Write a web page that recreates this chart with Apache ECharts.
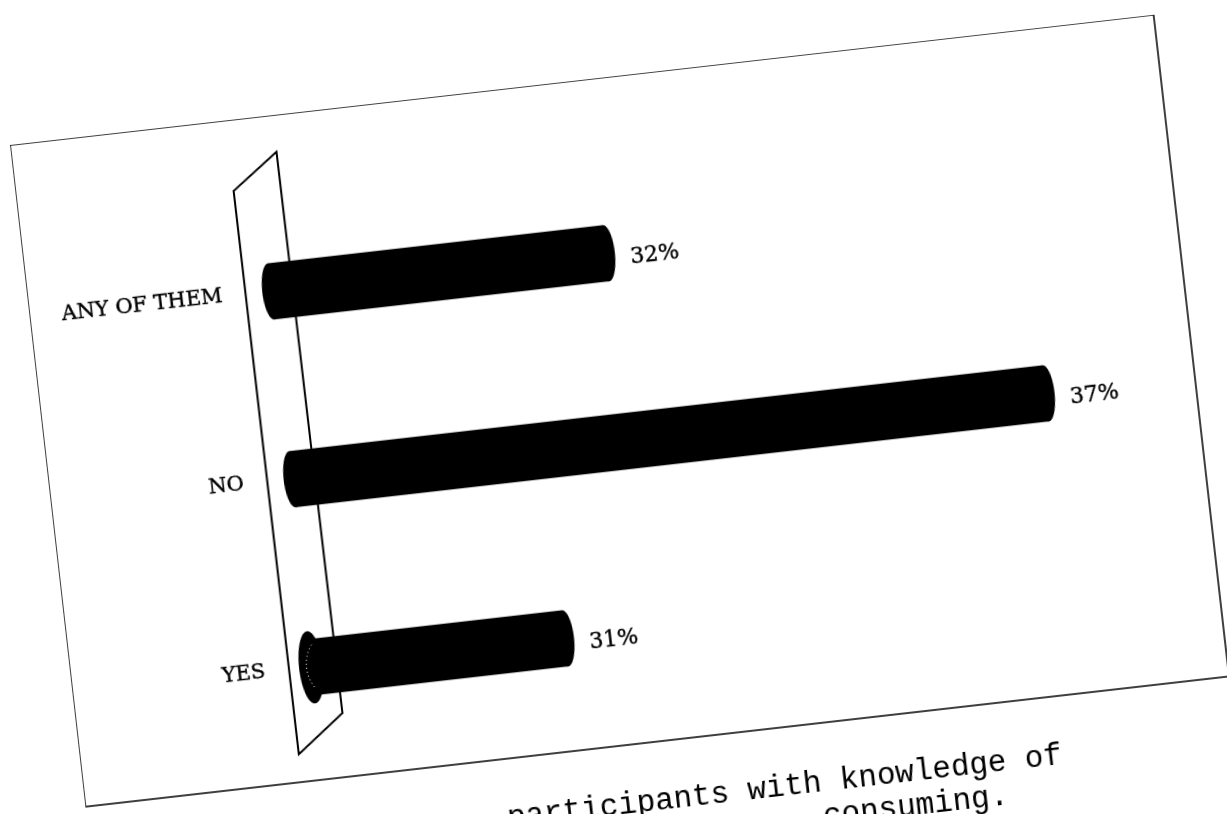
<!DOCTYPE html>
<html>
<head>
<meta charset="utf-8">
<script src="https://cdn.jsdelivr.net/npm/echarts@6/dist/echarts.min.js"></script>
<style>
  html, body { margin: 0; padding: 0; width: 1227px; height: 814px; overflow: hidden; background: #fff; }
  /* the printed page sits slightly tilted */
  #page {
    position: absolute; left: 10px; top: 145px;
    width: 1200px; height: 800px;
    transform-origin: 0 0; transform: rotate(-6.5deg);
  }
</style>
</head>
<body>
<div id="page"></div>
<script>
// Answers, bottom to top as drawn on the category axis
const categories = ['YES', 'NO', 'ANY OF THEM'];
const shares = [31, 37, 32];           // percent of participants
const axisMin = 28;
const axisMax = 38;
const captionLines = ['participants with knowledge of', 'consuming.'];

const serif = 'DejaVu Serif';
const chart = echarts.init(document.getElementById('page'), null, { renderer: 'canvas' });

// Cylinder bar: body plus elliptical end caps
function renderCylinder(params, api) {
  const v = api.value(0);
  const c = api.value(1);
  const p0 = api.coord([axisMin, c]);
  const p1 = api.coord([v, c]);
  const band = api.size([0, 1])[1];
  const h = band * 0.3;
  const ry = h / 2;
  const rx = 9;
  const children = [
    { type: 'rect', shape: { x: p0[0], y: p0[1] - ry, width: p1[0] - p0[0], height: h }, style: { fill: '#000' } },
    { type: 'ellipse', shape: { cx: p1[0], cy: p1[1], rx: rx, ry: ry }, style: { fill: '#000' } },
    { type: 'ellipse', shape: { cx: p0[0], cy: p0[1], rx: rx, ry: ry }, style: { fill: '#000' } }
  ];
  if (params.dataIndex === 0) {
    // the lowest bar stands on the floor: its base shows a wider ring
    children.push(
      { type: 'ellipse', shape: { cx: p0[0] - 3, cy: p0[1], rx: rx + 3, ry: ry + 8 }, style: { fill: '#000' } },
      { type: 'bezierCurve',
        shape: { x1: p0[0], y1: p0[1] - ry + 6, cpx1: p0[0] - 10, cpy1: p0[1] - 10, cpx2: p0[0] - 10, cpy2: p0[1] + 10, x2: p0[0], y2: p0[1] + ry - 6 },
        style: { stroke: '#fff', lineWidth: 1, lineDash: [1, 3], fill: 'none' } }
    );
  }
  children.push({
    type: 'text',
    style: {
      text: v + '%', x: p1[0] + rx + 15, y: p1[1] + 7,
      fill: '#000', font: '22px "' + serif + '"', verticalAlign: 'middle', align: 'left',
      stroke: '#000', lineWidth: 0.4
    }
  });
  return { type: 'group', children: children };
}

chart.setOption({
  animation: false,
  backgroundColor: '#fff',
  grid: { left: 243, width: 842, top: 80.5, height: 567 },
  xAxis: {
    type: 'value', min: axisMin, max: axisMax,
    show: false, splitLine: { show: false }
  },
  yAxis: {
    type: 'category', data: categories,
    axisLine: { show: false }, axisTick: { show: false }, splitLine: { show: false },
    axisLabel: {
      margin: 49, color: '#000', fontFamily: serif, fontSize: 21,
      textBorderColor: '#000', textBorderWidth: 0.4,
      padding: [0, 0, 20, 0]
    }
  },
  graphic: [
    // outer frame of the figure
    { type: 'rect', z: 0, shape: { x: 0, y: 0, width: 1151, height: 666 },
      style: { fill: 'none', stroke: '#000', lineWidth: 1.5 } },
    // back wall behind the bars
    { type: 'polygon', z: 0, shape: { points: [[217, 71], [264, 37], [266, 602], [218, 638]] },
      style: { fill: 'none', stroke: '#000', lineWidth: 2 } },
    // caption under the frame
    { type: 'text', z: 0, style: { text: captionLines[0], x: 976, y: 741, align: 'right', verticalAlign: 'bottom',
      font: '31px "Liberation Mono"', fill: '#000' } },
    { type: 'text', z: 0, style: { text: captionLines[1], x: 918, y: 775, align: 'right', verticalAlign: 'bottom',
      font: '31px "Liberation Mono"', fill: '#000' } }
  ],
  series: [{
    type: 'custom',
    z: 5,
    renderItem: renderCylinder,
    encode: { x: 0, y: 1 },
    data: shares.map((v, i) => [v, i])
  }]
});
</script>
</body>
</html>
